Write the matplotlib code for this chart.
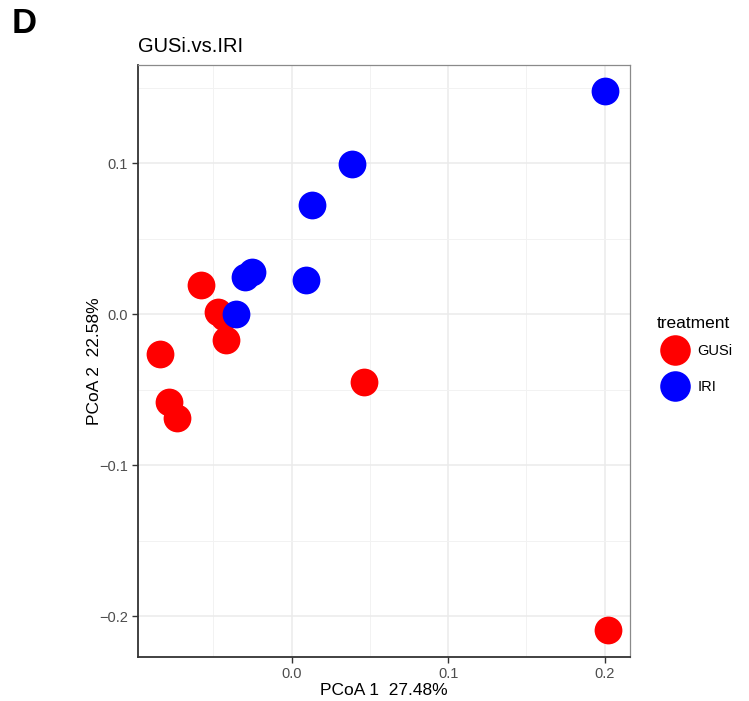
import matplotlib.pyplot as plt
import matplotlib as mpl
from matplotlib.lines import Line2D

mpl.rcParams['font.family'] = ['Liberation Sans', 'DejaVu Sans']

# PCoA scores
gusi_x = [-0.0580, -0.0469, -0.0431, -0.0422, -0.0842, -0.0782, -0.0733, 0.0460, 0.2019]
gusi_y = [0.0194, 0.0017, -0.0016, -0.0172, -0.0261, -0.0579, -0.0685, -0.0450, -0.2090]
iri_x = [0.2002, 0.0385, 0.0130, 0.0091, -0.0298, -0.0252, -0.0356]
iri_y = [0.1479, 0.0995, 0.0724, 0.0227, 0.0249, 0.0282, 0.0002]
groups = ['GUSi', 'IRI']
colors = ['#FF0000', '#0000FF']
x_ticks = [0.0, 0.1, 0.2]
y_ticks = [-0.2, -0.1, 0.0, 0.1]

fig = plt.figure(figsize=(7.49, 7.01), dpi=100)
ax = fig.add_axes([0.1842, 0.0628, 0.8411 - 0.1842, 0.9073 - 0.0628])

ax.scatter(gusi_x, gusi_y, s=400, c=colors[0], linewidths=0, zorder=3)
ax.scatter(iri_x, iri_y, s=400, c=colors[1], linewidths=0, zorder=3)

ax.set_xlim(-0.0982, 0.2162)
ax.set_ylim(-0.2270, 0.1651)
ax.set_xticks(x_ticks)
ax.set_xticklabels(['%.1f' % v for v in x_ticks])
ax.set_yticks(y_ticks)
ax.set_yticklabels([('%.1f' % v).replace('-', '\u2212') for v in y_ticks])
ax.set_xticks([-0.05, 0.05, 0.15], minor=True)
ax.set_yticks([-0.15, -0.05, 0.05, 0.15], minor=True)
ax.grid(which='major', color='#EBEBEB', linewidth=1.1, zorder=0)
ax.grid(which='minor', color='#F2F2F2', linewidth=0.7, zorder=0)
ax.set_axisbelow(True)

ax.tick_params(which='major', length=4, width=1, color='#333333',
               labelsize=10.5, labelcolor='#4D4D4D', pad=3)
ax.tick_params(which='minor', length=0)
for side in ['left', 'bottom']:
    ax.spines[side].set_color('#333333')
    ax.spines[side].set_linewidth(1.3)
for side in ['top', 'right']:
    ax.spines[side].set_color('#8A8A8A')
    ax.spines[side].set_linewidth(0.9)

ax.set_xlabel('PCoA 1  27.48%', fontsize=12.5, labelpad=2)
ax.set_ylabel('PCoA 2  22.58%', fontsize=12.5, labelpad=-2)
ax.set_title('GUSi.vs.IRI', fontsize=14.5, loc='left', pad=9)
fig.text(0.016, 0.967, 'D', fontsize=25, fontweight='bold', va='center', ha='left')

handles = [Line2D([], [], marker='o', linestyle='', markersize=22,
                  markerfacecolor=c, markeredgewidth=0) for c in colors]
leg = ax.legend(handles, groups, title='treatment', loc='upper left',
                bbox_to_anchor=(0.8695, 0.557), bbox_transform=fig.transFigure,
                frameon=False, fontsize=10.5, title_fontsize=12.5,
                handlelength=2.4, handletextpad=0.35, labelspacing=1.5,
                borderaxespad=0)
leg._legend_box.align = 'left'
leg._legend_box.sep = 9

fig.savefig('out.png', dpi=100)
